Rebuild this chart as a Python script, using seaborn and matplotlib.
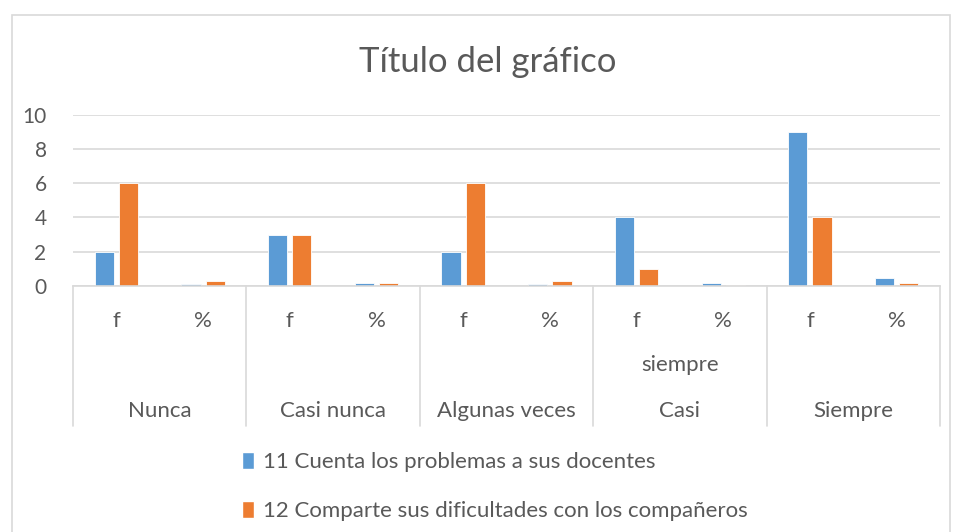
import pandas as pd
import matplotlib.pyplot as plt
import seaborn as sns
from matplotlib.patches import Rectangle, Patch

# data
groups = ['Nunca', 'Casi nunca', 'Algunas veces', 'Casi', 'Siempre']
sub_labels = ['f', '%']
series_names = ['11 Cuenta los problemas a sus docentes',
                '12 Comparte sus dificultades con los compañeros']
cuenta_f = [2, 3, 2, 4, 9]
cuenta_pct = [0.10, 0.15, 0.10, 0.20, 0.45]
comparte_f = [6, 3, 6, 1, 4]
comparte_pct = [0.30, 0.15, 0.30, 0.05, 0.20]
y_ticks = [0, 2, 4, 6, 8, 10]

blue = '#5B9BD5'
orange = '#ED7D31'
grey_txt = '#595959'
grid_col = '#D9D9D9'

rows = []
for i, g in enumerate(groups):
    for name, f_vals, p_vals in [(series_names[0], cuenta_f, cuenta_pct),
                                 (series_names[1], comparte_f, comparte_pct)]:
        rows.append({'pos': f'{g}-f', 'serie': name, 'valor': f_vals[i]})
        rows.append({'pos': f'{g}-%', 'serie': name, 'valor': p_vals[i]})
df = pd.DataFrame(rows)
order = [f'{g}-{s}' for g in groups for s in sub_labels]

sns.set_style('white')
plt.rcParams['font.family'] = ['Lato', 'DejaVu Sans']

fig = plt.figure(figsize=(9.55, 5.32), dpi=100)
ax = fig.add_axes([73 / 955, 1 - 286 / 532, 867 / 955, 171.3 / 532])

# outer chart border
fig.patches.append(Rectangle((12 / 955, -0.01), 938 / 955, 1 - 15 / 532 + 0.01,
                             transform=fig.transFigure, fill=False,
                             edgecolor=grid_col, linewidth=1.2))

sns.barplot(data=df, x='pos', y='valor', hue='serie', order=order,
            hue_order=series_names, palette=[blue, orange], saturation=1,
            width=0.56, gap=0.21, edgecolor='white', linewidth=0.6, ax=ax,
            legend=False)

ax.set_ylim(0, 10)
ax.set_xlim(-0.5, len(order) - 0.5)
ax.set_yticks(y_ticks)
ax.yaxis.grid(True, color=grid_col, linewidth=1.2)
ax.set_axisbelow(True)
for s in ['top', 'right', 'left']:
    ax.spines[s].set_visible(False)
ax.spines['bottom'].set_color(grid_col)
ax.spines['bottom'].set_linewidth(1.2)
ax.tick_params(axis='y', length=0, labelsize=15, labelcolor=grey_txt, pad=19)
ax.set_xticks(range(len(order)))
ax.set_xticklabels([s for g in groups for s in sub_labels])
ax.tick_params(axis='x', length=0, labelsize=16, labelcolor=grey_txt, pad=18)
ax.set_xlabel('')
ax.set_ylabel('')

# multi-level category axis
tr = ax.get_xaxis_transform()
for k in range(len(groups) + 1):
    ax.plot([k * 2 - 0.5] * 2, [0, -140 / 171.3], color=grid_col, lw=1.2,
            transform=tr, clip_on=False)
for i, g in enumerate(groups):
    ax.text(i * 2 + 0.5, -125 / 171.3, g, transform=tr, ha='center', va='center',
            fontsize=16, color=grey_txt)
ax.text(3 * 2 + 0.5, -79 / 171.3, 'siempre', transform=tr, ha='center',
        va='center', fontsize=16, color=grey_txt)

fig.text(488 / 955, 1 - 62 / 532, 'Título del gráfico', ha='center', va='center',
         fontsize=25, color=grey_txt)

handles = [Patch(facecolor=blue), Patch(facecolor=orange)]
fig.legend(handles, series_names, loc='upper left',
           bbox_to_anchor=(242 / 955, 1 - 452 / 532), frameon=False,
           fontsize=16, labelcolor=grey_txt, handlelength=0.55, handleheight=0.8,
           handletextpad=0.4, labelspacing=1.3, borderpad=0, borderaxespad=0)

fig.savefig('out.png', dpi=100)
